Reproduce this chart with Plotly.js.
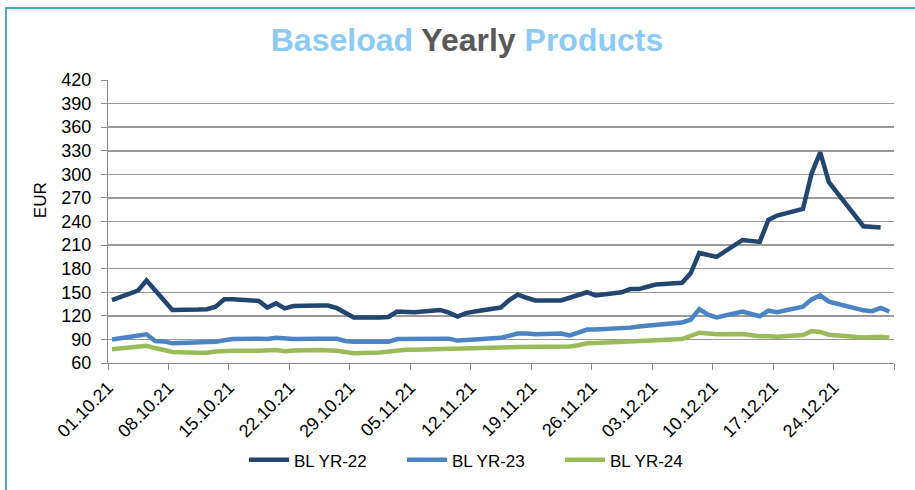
<!DOCTYPE html>
<html>
<head>
<meta charset="utf-8">
<script src="https://cdn.plot.ly/plotly-3.0.1.min.js"></script>
<style>
  html, body { margin: 0; padding: 0; background: #fff; }
  #wrap { position: relative; width: 915px; height: 490px; overflow: hidden; }
  #chart { position: absolute; left: 0; top: 0; width: 915px; height: 490px; }
  #frame { position: absolute; left: 5px; top: 7px; width: 930px; height: 500px;
           border: 2px solid #4BACC6; pointer-events: none; box-sizing: border-box; }
</style>
</head>
<body>
<div id="wrap">
  <div id="chart"></div>
  <div id="frame"></div>
</div>
<script>
const dates = [
  "2021-10-01","2021-10-04","2021-10-05","2021-10-06","2021-10-07","2021-10-08",
  "2021-10-11","2021-10-12","2021-10-13","2021-10-14","2021-10-15",
  "2021-10-18","2021-10-19","2021-10-20","2021-10-21","2021-10-22",
  "2021-10-25","2021-10-26","2021-10-27","2021-10-28","2021-10-29",
  "2021-11-01","2021-11-02","2021-11-03","2021-11-04","2021-11-05",
  "2021-11-08","2021-11-09","2021-11-10","2021-11-11","2021-11-12",
  "2021-11-15","2021-11-16","2021-11-17","2021-11-18","2021-11-19",
  "2021-11-22","2021-11-23","2021-11-24","2021-11-25","2021-11-26",
  "2021-11-29","2021-11-30","2021-12-01","2021-12-02","2021-12-03",
  "2021-12-06","2021-12-07","2021-12-08","2021-12-09","2021-12-10",
  "2021-12-13","2021-12-14","2021-12-15","2021-12-16","2021-12-17",
  "2021-12-20","2021-12-21","2021-12-22","2021-12-23",
  "2021-12-27","2021-12-28","2021-12-29","2021-12-30"
];

const blYr22 = [
  140,152,165,152,139.5,127.5, 128,128.5,131.5,141,141, 139,130.5,136,129.5,132.5, 133,133,130,124,118,
  118,118.5,125.5,125,124.5, 127.5,124,119,123.5,125.5, 130.5,140,147,143,139.5, 139.5,143,146.5,150,146, 150,154,
  154,157,160, 162,174,200,197,195, 216.5,215.5,214,242,247.5, 256,301,328,290, 234,233.5,232.5,null
];
const blYr23 = [
  90,95,96.5,88,87.5,85, 85.5,85.5,87,89,90.5, 91,90.5,92,91,90.5, 91,91.5,91,88,87,
  87,87,90.5,90.5,90, 91,91,88.5,89.5,90, 92,94.5,97.5,97.5,96.5, 97.5,95,98.5,102.5,102.5, 104,105,
  106.5,107.5,108.5, 111.5,115,128.5,121.5,118, 125.5,122.5,119.5,126.5,124.5, 131.5,141,146,138, 127,126,130,125.5
];
const blYr24 = [
  77.5,81,82,79,76.5,74, 73,73,74.5,75.5,75.5, 75.5,75.5,76.5,75,76, 76.5,76.5,75.5,74,72.5,
  73.5,74.5,76.5,77,77, 77.5,78,78,78.5,79, 79.5,80,80.5,80.5,80.5, 81,81,82.5,85,85.5, 86.5,87,
  88,88.5,89, 90.5,94.5,98.5,97.5,96.5, 97,95.5,94,94,93.5, 95.5,100.5,99.5,96, 92.5,93,93.5,92
];

const seriesNames = ["BL YR-22", "BL YR-23", "BL YR-24"];
const seriesColors = ["#22466F", "#4A84C4", "#9BBB59"];

const tickDates = [
  "2021-10-01","2021-10-08","2021-10-15","2021-10-22","2021-10-29",
  "2021-11-05","2021-11-12","2021-11-19","2021-11-26",
  "2021-12-03","2021-12-10","2021-12-17","2021-12-24","2021-12-31"
];
const tickLabels = [
  "01.10.21","08.10.21","15.10.21","22.10.21","29.10.21",
  "05.11.21","12.11.21","19.11.21","26.11.21",
  "03.12.21","10.12.21","17.12.21","24.12.21",""
];
const yTicks = [60,90,120,150,180,210,240,270,300,330,360,390,420];

// points sit near the middle of each day slot
const xs = dates.map(d => d + " 11:00");

const traces = [blYr22, blYr23, blYr24].map((vals, i) => ({
  type: "scatter",
  mode: "lines",
  x: xs,
  y: vals,
  name: seriesNames[i],
  line: { color: seriesColors[i], width: 4.5 },
  connectgaps: false
}));

const font = "Liberation Sans, Arial, sans-serif";

const layout = {
  width: 915,
  height: 490,
  paper_bgcolor: "#ffffff",
  plot_bgcolor: "#ffffff",
  margin: { l: 108, r: 21, t: 80, b: 125 },
  font: { family: font, size: 18, color: "#000000" },
  title: {
    text: '<span style="color:#8ECAF6">Baseload</span> <span style="color:#595959">Yearly</span> <span style="color:#8ECAF6">Products</span>',
    font: { family: font, size: 32, weight: "bold" },
    x: 467 / 915,
    xanchor: "center",
    y: 1 - 40 / 490,
    yanchor: "middle"
  },
  xaxis: {
    type: "date",
    range: ["2021-10-01", "2021-12-31"],
    tickmode: "array",
    tickvals: tickDates,
    ticktext: tickLabels,
    tickangle: -45,
    ticks: "outside",
    ticklen: 6,
    tickcolor: "#8C8C8C",
    tickwidth: 1,
    showgrid: false,
    showline: true,
    linecolor: "#8C8C8C",
    linewidth: 1,
    zeroline: false,
    tickfont: { family: font, size: 18, color: "#000" }
  },
  yaxis: {
    range: [60, 420],
    tickmode: "array",
    tickvals: yTicks,
    ticks: "outside",
    ticklen: 6,
    tickcolor: "#8C8C8C",
    ticklabelstandoff: 6,
    showgrid: true,
    gridcolor: "#9A9A9A",
    gridwidth: 1.5,
    showline: true,
    linecolor: "#8C8C8C",
    linewidth: 1,
    zeroline: false,
    tickfont: { family: font, size: 18, color: "#000" }
  },
  annotations: [{
    text: "EUR",
    textangle: -90,
    xref: "paper", yref: "paper",
    x: (40 - 108) / 786, y: (365 - 201) / 285,
    xanchor: "center", yanchor: "middle",
    showarrow: false,
    font: { family: font, size: 17, color: "#000" }
  }],
  showlegend: true,
  legend: {
    orientation: "h",
    x: (244 - 108) / 786,
    xanchor: "left",
    y: (365 - 463) / 285,
    yanchor: "middle",
    font: { family: font, size: 17, color: "#000" },
    itemwidth: 40,
    entrywidth: 103,
    entrywidthmode: "pixels",
    tracegroupgap: 0
  }
};

Plotly.newPlot("chart", traces, layout, { displayModeBar: false, staticPlot: true });
</script>
</body>
</html>
